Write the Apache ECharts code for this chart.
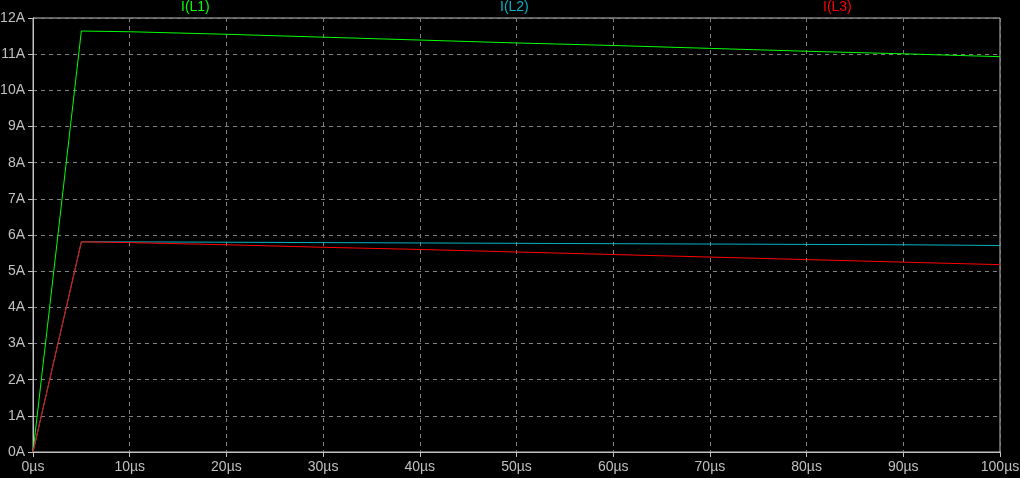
<!DOCTYPE html>
<html><head><meta charset="utf-8">
<script src="https://cdn.jsdelivr.net/npm/echarts@6/dist/echarts.min.js"></script>
<style>html,body{margin:0;padding:0;background:#000;}#c{width:1020px;height:478px;}</style>
</head><body><div id="c"></div>
<script>
const times = [0, 5, 10, 20, 30, 40, 50, 60, 70, 80, 90, 100];
const iL1 = [0, 11.64, 11.62, 11.55, 11.47, 11.39, 11.31, 11.24, 11.16, 11.08, 11.01, 10.93];
const iL2 = [0, 5.81, 5.81, 5.80, 5.79, 5.78, 5.77, 5.76, 5.75, 5.74, 5.73, 5.71];
const iL3 = [0, 5.81, 5.79, 5.73, 5.66, 5.60, 5.53, 5.46, 5.39, 5.32, 5.25, 5.18];
const seriesNames = ['I(L1)', 'I(L2)', 'I(L3)'];
const seriesColors = ['#00ff00', '#00b4c4', '#ff0000'];
const seriesData = [iL1, iL2, iL3];

const chart = echarts.init(document.getElementById('c'));
const font = 'Liberation Sans';
const legendLeft = [176, 495, 818];
chart.setOption({
  backgroundColor: '#000',
  animation: false,
  grid: {left: 33, right: 20, top: 18, bottom: 26, show: true, borderColor: '#c0c0c0', borderWidth: 1,
    containLabel: false, outerBoundsMode: 'none'},
  legend: seriesNames.map((n, i) => ({
    data: [{name: n, textStyle: {color: seriesColors[i]}}],
    icon: 'none', itemWidth: 0, itemGap: 0,
    left: legendLeft[i], top: 0, padding: 0,
    textStyle: {fontFamily: font, fontSize: 14, padding: [2,0,0,0]},
    selectedMode: false
  })),
  xAxis: {
    type: 'value', min: 0, max: 100, interval: 10,
    axisLine: {lineStyle: {color: '#c0c0c0'}},
    axisTick: {show: true, length: 5, lineStyle: {color: '#c0c0c0'}},
    axisLabel: {color: '#c0c0c0', fontFamily: font, fontSize: 14, margin: 8, formatter: v => v + 'µs',
      showMaxLabel: true, showMinLabel: true},
    splitLine: {show: true, lineStyle: {color: '#808080', type: [4, 4], width: 1}}
  },
  yAxis: {
    type: 'value', min: 0, max: 12, interval: 1,
    axisLine: {show: true, lineStyle: {color: '#c0c0c0'}},
    axisTick: {show: true, length: 5, lineStyle: {color: '#c0c0c0'}},
    axisLabel: {color: '#c0c0c0', fontFamily: font, fontSize: 14, margin: 8, formatter: v => v + 'A'},
    splitLine: {show: true, lineStyle: {color: '#808080', type: [4, 4], width: 1}}
  },
  series: seriesNames.map((n, i) => ({
    name: n, type: 'line', showSymbol: false, symbol: 'none',
    lineStyle: {color: seriesColors[i], width: 1},
    itemStyle: {color: seriesColors[i]},
    data: times.map((t, k) => [t, seriesData[i][k]])
  }))
});
</script></body></html>
